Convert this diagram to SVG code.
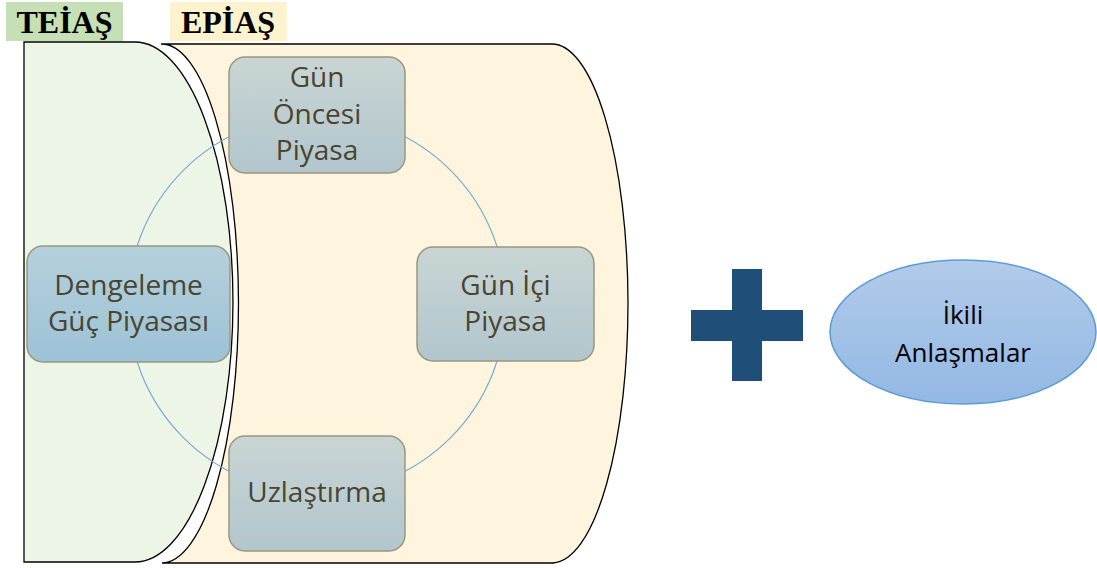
<svg xmlns="http://www.w3.org/2000/svg" width="1097" height="568" viewBox="0 0 1097 568">
<defs>
<linearGradient id="gNode" x1="0" y1="0" x2="0" y2="1">
<stop offset="0" stop-color="#c9d5d4"/>
<stop offset="1" stop-color="#b1c6cd"/>
</linearGradient>
<linearGradient id="gBlue" x1="0" y1="0" x2="0" y2="1">
<stop offset="0" stop-color="#b5d0dc"/>
<stop offset="1" stop-color="#9cc2d6"/>
</linearGradient>
<linearGradient id="gEll" x1="0" y1="0" x2="0" y2="1">
<stop offset="0" stop-color="#b1cbea"/>
<stop offset="1" stop-color="#93b8e3"/>
</linearGradient>
</defs>
<style>
.zone{stroke:#000;stroke-width:1.3}
.node{stroke:#9a9680;stroke-width:1.5}
.t{font-family:"Open Sans","Noto Sans",sans-serif;font-size:28px;fill:#4a4431;text-anchor:middle}
.lbl{font-family:"Liberation Serif",serif;font-weight:bold;font-size:32px;fill:#000;text-anchor:middle}
</style>
<rect width="1097" height="568" fill="#fff"/>
<g id="teias-label">
<rect x="6" y="2" width="117" height="39" fill="#c5e0b4"/>
<text class="lbl" x="64.5" y="33">TEİAŞ</text>
</g>
<g id="epias-label">
<rect x="170" y="2" width="117" height="39" fill="#fff2cc"/>
<text class="lbl" x="228" y="33">EPİAŞ</text>
</g>
<g id="epias-zone">
<path class="zone" fill="#fff5de" d="M161,44 H551 A76,259.5 0 0 1 553,563 H162 A77,259.5 0 0 0 161,44 Z"/>
</g>
<g id="teias-zone">
<path class="zone" fill="#edf5e7" d="M24,42 H135 A98,260 0 0 1 135,562 H24 Z"/>
</g>
<g id="connectors">
<circle cx="317" cy="304" r="189" fill="none" stroke="#7aaad0" stroke-width="1.2"/>
</g>
<g id="gun-oncesi">
<rect class="node" x="229" y="57" width="176" height="116" rx="16" fill="url(#gNode)"/>
<text class="t" x="317" y="87">Gün</text>
<text class="t" x="317" y="124">Öncesi</text>
<text class="t" x="317" y="160">Piyasa</text>
</g>
<g id="dengeleme">
<rect class="node" x="27" y="246" width="203" height="116" rx="16" fill="url(#gBlue)"/>
<text class="t" x="128.5" y="295">Dengeleme</text>
<text class="t" x="128.5" y="331">Güç Piyasası</text>
</g>
<g id="gun-ici">
<rect class="node" x="417" y="247" width="177" height="114" rx="16" fill="url(#gNode)"/>
<text class="t" x="505.5" y="295">Gün İçi</text>
<text class="t" x="505.5" y="331">Piyasa</text>
</g>
<g id="uzlastirma">
<rect class="node" x="229" y="436" width="176" height="115" rx="16" fill="url(#gNode)"/>
<text class="t" x="317" y="502">Uzlaştırma</text>
</g>
<g id="plus">
<rect x="732" y="269" width="30" height="112" fill="#1f4e79"/>
<rect x="691" y="310" width="112" height="31" fill="#1f4e79"/>
</g>
<g id="ikili">
<ellipse cx="963" cy="332" rx="133" ry="72" fill="url(#gEll)" stroke="#5b9bd5" stroke-width="1.5"/>
<text class="t" x="963" y="324" style="fill:#000;font-size:26px">İkili</text>
<text class="t" x="963" y="362" style="fill:#000;font-size:26px">Anlaşmalar</text>
</g>
</svg>
